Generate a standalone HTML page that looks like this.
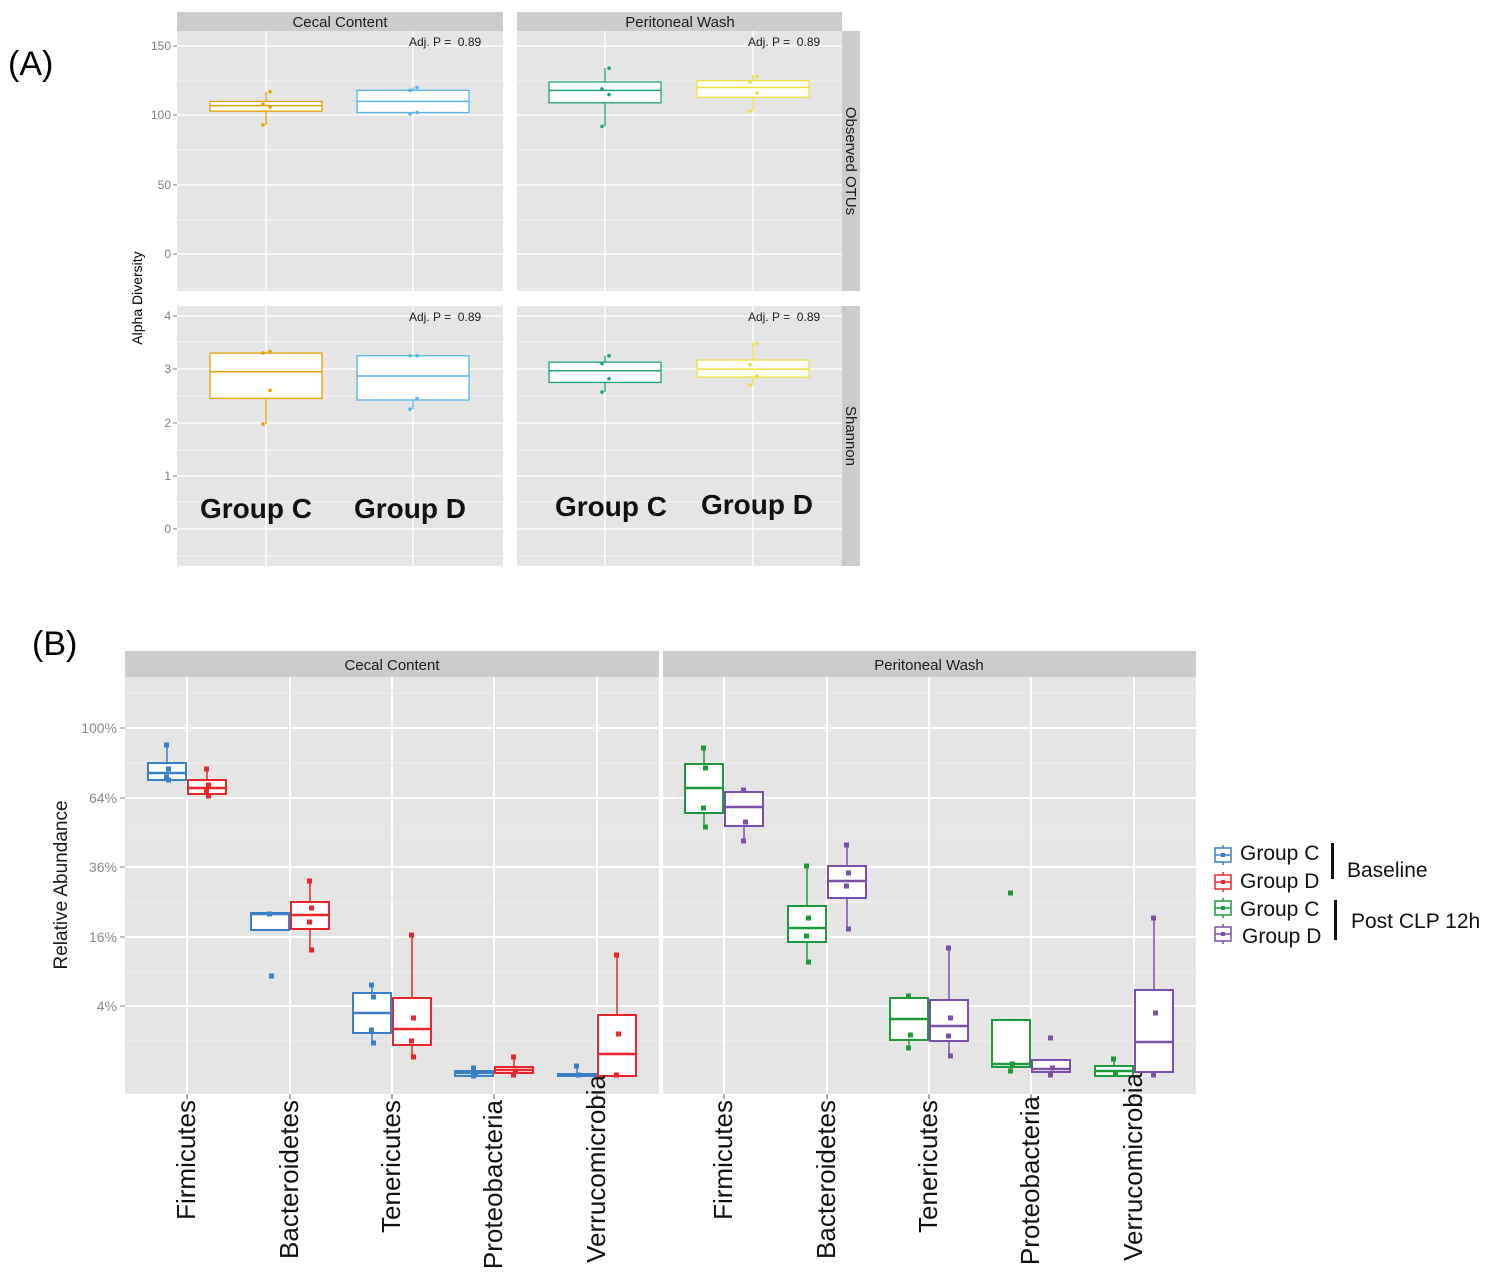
<!DOCTYPE html>
<html><head><meta charset="utf-8"><style>
html,body{margin:0;padding:0;background:#fff}
svg{display:block}
text{font-family:"Liberation Sans",sans-serif}
</style></head><body>
<svg id="s" width="1500" height="1284" viewBox="0 0 1500 1284" xmlns="http://www.w3.org/2000/svg">
<text x="8" y="75" font-size="34">(A)</text>
<text x="32" y="655" font-size="34">(B)</text>
<rect x="177" y="12" width="326" height="19" fill="#cccccc"/>
<rect x="517" y="12" width="325" height="19" fill="#cccccc"/>
<rect x="177" y="31" width="326" height="260" fill="#e5e5e5"/>
<rect x="517" y="31" width="325" height="260" fill="#e5e5e5"/>
<rect x="177" y="306" width="326" height="260" fill="#e5e5e5"/>
<rect x="517" y="306" width="325" height="260" fill="#e5e5e5"/>
<rect x="842" y="31" width="18" height="260" fill="#cccccc"/>
<rect x="842" y="306" width="18" height="260" fill="#cccccc"/>
<g id="gA"></g>
<text x="340" y="27" font-size="15" text-anchor="middle" fill="#1a1a1a">Cecal Content</text>
<text x="680" y="27" font-size="15" text-anchor="middle" fill="#1a1a1a">Peritoneal Wash</text>
<text transform="translate(846,161) rotate(90)" font-size="15" text-anchor="middle" fill="#1a1a1a">Observed OTUs</text>
<text transform="translate(846,436) rotate(90)" font-size="15" text-anchor="middle" fill="#1a1a1a">Shannon</text>
<text transform="translate(142,298) rotate(-90)" font-size="14" text-anchor="middle">Alpha Diversity</text>
<g font-size="12" fill="#1a1a1a">
<text x="409" y="46">Adj. P =&#160; 0.89</text><text x="748" y="46">Adj. P =&#160; 0.89</text>
<text x="409" y="321">Adj. P =&#160; 0.89</text><text x="748" y="321">Adj. P =&#160; 0.89</text>
</g>
<g font-size="12" fill="#7f7f7f" text-anchor="end">
<text x="171" y="50">150</text><text x="171" y="119">100</text><text x="171" y="189">50</text><text x="171" y="258">0</text>
<text x="171" y="320">4</text><text x="171" y="373">3</text><text x="171" y="427">2</text><text x="171" y="480">1</text><text x="171" y="533">0</text>
</g>
<g font-size="28" font-weight="bold" fill="#111">
<text x="200" y="518">Group C</text><text x="354" y="518">Group D</text>
<text x="555" y="516">Group C</text><text x="701" y="514">Group D</text>
</g>
<rect x="125" y="651" width="534" height="26" fill="#cccccc"/>
<rect x="663" y="651" width="533" height="26" fill="#cccccc"/>
<rect x="125" y="677" width="534" height="417" fill="#e5e5e5"/>
<rect x="663" y="677" width="533" height="417" fill="#e5e5e5"/>
<g id="gB"></g>
<text x="392" y="670" font-size="15" text-anchor="middle" fill="#1a1a1a">Cecal Content</text>
<text x="929" y="670" font-size="15" text-anchor="middle" fill="#1a1a1a">Peritoneal Wash</text>
<g font-size="14" fill="#8a8a8a" text-anchor="end">
<text x="117" y="733">100%</text><text x="117" y="803">64%</text><text x="117" y="872">36%</text><text x="117" y="942">16%</text><text x="117" y="1011">4%</text>
</g>
<text transform="translate(67,885) rotate(-90)" font-size="19" text-anchor="middle" fill="#1a1a1a">Relative Abundance</text>
<g font-size="26" text-anchor="end" fill="#111">
<text transform="translate(195,1100) rotate(-90)">Firmicutes</text>
<text transform="translate(298,1100) rotate(-90)">Bacteroidetes</text>
<text transform="translate(400,1100) rotate(-90)">Tenericutes</text>
<text transform="translate(502,1100) rotate(-90)">Proteobacteria</text>
<text transform="translate(605,1075) rotate(-90)">Verrucomicrobia</text>
<text transform="translate(732,1100) rotate(-90)">Firmicutes</text>
<text transform="translate(835,1100) rotate(-90)">Bacteroidetes</text>
<text transform="translate(937,1100) rotate(-90)">Tenericutes</text>
<text transform="translate(1039,1096) rotate(-90)">Proteobacteria</text>
<text transform="translate(1142,1073) rotate(-90)">Verrucomicrobia</text>
</g>
<g id="leg"></g>
<g font-size="21" fill="#111">
<text x="1240" y="860">Group C</text><text x="1240" y="888">Group D</text>
<text x="1240" y="916">Group C</text><text x="1242" y="943">Group D</text>
<text x="1347" y="877">Baseline</text><text x="1351" y="928">Post CLP 12h</text>
</g>
<rect x="1331" y="843" width="3" height="36" fill="#111"/>
<rect x="1334" y="900" width="3" height="40" fill="#111"/>
</svg>
<script>
var NS="http://www.w3.org/2000/svg";
function el(p,t,a){var e=document.createElementNS(NS,t);for(var k in a)e.setAttribute(k,a[k]);p.appendChild(e);return e;}
var gA=document.getElementById('gA'),gB=document.getElementById('gB');
function gridA(x0,x1,ys,minor,xs){
 minor.forEach(function(y){el(gA,'line',{x1:x0,x2:x1,y1:y,y2:y,stroke:'#f2f2f2','stroke-width':1});});
 ys.forEach(function(y){el(gA,'line',{x1:x0,x2:x1,y1:y,y2:y,stroke:'#fff','stroke-width':1.5});});
 xs.forEach(function(x){el(gA,'line',{x1:x,x2:x,y1:(ys[0]<300?31:306),y2:(ys[0]<300?291:566),stroke:'#fff','stroke-width':1.5});});
}
var tY=[46,115,185,254],tYm=[81,150,220,289],bY=[316,369,423,476,529],bYm=[342,396,450,502,556];
gridA(177,503,tY,tYm,[266,413]);gridA(517,842,tY,tYm,[605,753]);
gridA(177,503,bY,bYm,[266,413]);gridA(517,842,bY,bYm,[605,753]);
[tY,bY].forEach(function(a){a.forEach(function(y){el(gA,'line',{x1:173,x2:177,y1:y,y2:y,stroke:'#7f7f7f'});});});
function ty(v){return 254-v*1.387;} function by(v){return 529-v*53.3;}
function boxA(cx,f,q1,med,q3,lo,hi,pts,col){
 el(gA,'line',{x1:cx,x2:cx,y1:f(hi),y2:f(lo),stroke:col,'stroke-width':1.3});
 el(gA,'rect',{x:cx-56,y:f(q3),width:112,height:f(q1)-f(q3),fill:'#fff',stroke:col,'stroke-width':1.3});
 el(gA,'line',{x1:cx-56,x2:cx+56,y1:f(med),y2:f(med),stroke:col,'stroke-width':1.5});
 pts.forEach(function(p,i){el(gA,'circle',{cx:cx+(i%2?4:-3),cy:f(p),r:1.8,fill:col});});
}
var O='#E69F00',B='#56B4E9',G='#1fa37a',Y='#ECE13D';
boxA(266,ty,103,107,110,93,117,[93,106,108,117],O);
boxA(413,ty,102,110,118,101,120,[101,102,118,120],B);
boxA(605,ty,109,118,124,92,134,[92,115,119,134],G);
boxA(753,ty,113,120,125,103,129,[103,116,124,128],Y);
boxA(266,by,2.45,2.95,3.3,1.97,3.33,[1.97,2.6,3.3,3.33],O);
boxA(413,by,2.42,2.87,3.25,2.25,3.25,[2.25,2.45,3.25,3.25],B);
boxA(605,by,2.75,2.97,3.13,2.57,3.25,[2.57,2.82,3.1,3.25],G);
boxA(753,by,2.85,3.0,3.17,2.7,3.5,[2.7,2.87,3.08,3.48],Y);
var maj=[728,798,867,937,1006],mn=[693,763,832,902,972,1041];
[[125,659,[187,290,392,494,597]],[663,1196,[724,827,929,1031,1134]]].forEach(function(p){
 mn.forEach(function(y){el(gB,'line',{x1:p[0],x2:p[1],y1:y,y2:y,stroke:'#f0f0f0','stroke-width':1});});
 maj.forEach(function(y){el(gB,'line',{x1:p[0],x2:p[1],y1:y,y2:y,stroke:'#fff','stroke-width':2});});
 p[2].forEach(function(x){el(gB,'line',{x1:x,x2:x,y1:677,y2:1094,stroke:'#fff','stroke-width':2});
  el(gB,'line',{x1:x,x2:x,y1:1094,y2:1099,stroke:'#555','stroke-width':1});});
});
maj.forEach(function(y){el(gB,'line',{x1:120,x2:125,y1:y,y2:y,stroke:'#888'});});
function boxB(cx,q1,med,q3,lo,hi,pts,col){
 el(gB,'line',{x1:cx,x2:cx,y1:hi,y2:lo,stroke:col,'stroke-width':1.5});
 el(gB,'rect',{x:cx-19,y:q1,width:38,height:Math.max(q3-q1,2),fill:'#fff',stroke:col,'stroke-width':2});
 el(gB,'line',{x1:cx-19,x2:cx+19,y1:med,y2:med,stroke:col,'stroke-width':2.5});
 pts.forEach(function(p,i){el(gB,'rect',{x:cx-2+(i%2?1:-1),y:p-2.5,width:5,height:5,fill:col});});
}
var cB='#3a7fc8',cR='#e8262c',cG='#1f9a3a',cP='#7a4fa8';
var L=[187,290,392,494,597],R=[724,827,929,1031,1134];
boxB(L[0]-20,763,773,780,782,745,[745,769,777,780],cB);
boxB(L[0]+20,780,788,794,797,769,[769,785,791,796],cR);
boxB(L[1]-20,913,914,930,930,913,[914,976],cB);
boxB(L[1]+20,902,915,929,950,881,[881,908,922,950],cR);
boxB(L[2]-20,993,1013,1033,1043,985,[985,997,1030,1043],cB);
boxB(L[2]+20,998,1029,1045,1057,935,[935,1018,1041,1057],cR);
boxB(L[3]-20,1071,1073,1076,1077,1068,[1068,1073,1076],cB);
boxB(L[3]+20,1067,1070,1073,1076,1057,[1057,1071,1075],cR);
boxB(L[4]-20,1074,1075,1076,1076,1066,[1066,1075],cB);
boxB(L[4]+20,1015,1054,1076,1076,955,[955,1034,1075],cR);
boxB(R[0]-20,764,788,813,828,748,[748,768,808,827],cG);
boxB(R[0]+20,792,807,826,841,788,[790,822,841],cP);
boxB(R[1]-20,906,928,942,962,866,[866,918,936,962],cG);
boxB(R[1]+20,866,881,898,929,845,[845,873,886,929],cP);
boxB(R[2]-20,998,1019,1040,1048,995,[996,1035,1048],cG);
boxB(R[2]+20,1000,1026,1041,1056,948,[948,1018,1036,1056],cP);
boxB(R[3]-20,1020,1064,1067,1071,1020,[893,1064,1071],cG);
boxB(R[3]+20,1060,1069,1072,1075,1060,[1038,1068,1075],cP);
boxB(R[4]-20,1066,1071,1076,1076,1059,[1059,1074],cG);
boxB(R[4]+20,990,1042,1072,1076,918,[918,1013,1075],cP);
var lg=document.getElementById('leg');
[[855,cB],[882,cR],[908,cG],[934,cP]].forEach(function(a){
 el(lg,'line',{x1:1223,x2:1223,y1:a[0]-10,y2:a[0]+10,stroke:a[1],'stroke-width':1.5});
 el(lg,'rect',{x:1215,y:a[0]-7,width:16,height:14,fill:'#fff',stroke:a[1],'stroke-width':1.5});
 el(lg,'line',{x1:1215,x2:1231,y1:a[0],y2:a[0],stroke:a[1],'stroke-width':1.5});
 el(lg,'rect',{x:1221,y:a[0]-2,width:4,height:4,fill:a[1]});
});
</script>
</body></html>
